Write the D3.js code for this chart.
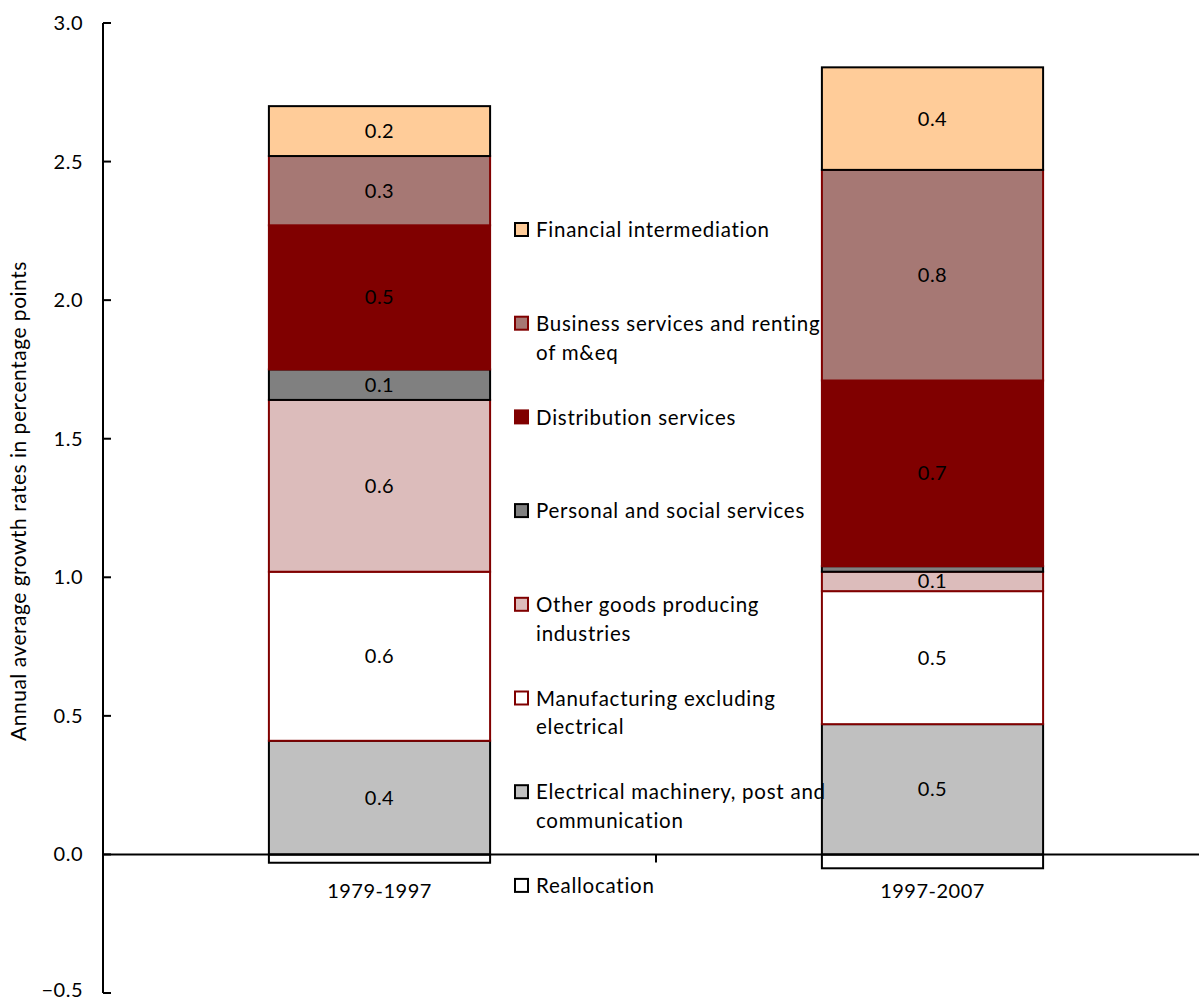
<!DOCTYPE html>
<html>
<head>
<meta charset="utf-8">
<script src="https://cdn.jsdelivr.net/npm/d3@7"></script>
<style>
  html, body { margin: 0; padding: 0; background: #fff; }
  svg { display: block; font-family: "Lato", "Open Sans", sans-serif; letter-spacing: 0.5px; }
  .legend text { letter-spacing: 0.75px; }
</style>
</head>
<body>
<svg id="chart" width="1199" height="1002"></svg>
<script>
// Periods on the x axis
const periods = ["1979-1997", "1997-2007"];

// Industry groups, stacked from the bottom up (reallocation goes below zero)
const industries = [
  "Reallocation",
  "Electrical machinery, post and communication",
  "Manufacturing excluding electrical",
  "Other goods producing industries",
  "Personal and social services",
  "Distribution services",
  "Business services and renting of m&eq",
  "Financial intermediation"
];

// Contributions (percentage points) per industry, one value per period
const reallocation   = [-0.03, -0.05];
const electrical     = [0.41, 0.47];
const manufacturing  = [0.61, 0.48];
const otherGoods     = [0.62, 0.07];
const personal       = [0.11, 0.02];
const distribution   = [0.52, 0.67];
const business       = [0.25, 0.76];
const financial      = [0.18, 0.37];

const seriesValues = [reallocation, electrical, manufacturing, otherGoods,
                      personal, distribution, business, financial];

const yTicks = [-0.5, 0.0, 0.5, 1.0, 1.5, 2.0, 2.5, 3.0];

// Fill and outline per industry
const fills   = ["#ffffff", "#c0c0c0", "#ffffff", "#dcbcbb", "#808080", "#800000", "#a67874", "#ffcc99"];
const strokes = ["#000000", "#000000", "#800000", "#800000", "#000000", "#800000", "#800000", "#000000"];

// Legend, listed top to bottom; each entry split into display lines
const legendOrder = [7, 6, 5, 4, 3, 2, 1, 0];
const legendLines = {
  7: ["Financial intermediation"],
  6: ["Business services and renting", "of m&eq"],
  5: ["Distribution services"],
  4: ["Personal and social services"],
  3: ["Other goods producing", "industries"],
  2: ["Manufacturing excluding", "electrical"],
  1: ["Electrical machinery, post and", "communication"],
  0: ["Reallocation"]
};

const FONT = 20;
const svg = d3.select("#chart");
const axisX = 103;

const x = d3.scaleBand()
  .domain(periods)
  .range([axisX, 1209])
  .paddingInner(0.6)
  .paddingOuter(0.3);

const y = d3.scaleLinear().domain([-0.5, 3.0]).range([993, 23]);

// Build stacked segments: positive values stack upward, negative downward
const segments = [];
periods.forEach((p, pi) => {
  let pos = 0, neg = 0;
  seriesValues.forEach((vals, si) => {
    const v = vals[pi];
    let y0, y1;
    if (v >= 0) { y0 = pos; y1 = pos + v; pos = y1; }
    else { y0 = neg + v; y1 = neg; neg = y0; }
    segments.push({ period: p, series: si, value: v, y0, y1 });
  });
});

// Bars
svg.append("g").selectAll("rect")
  .data(segments)
  .join("rect")
  .attr("x", d => x(d.period))
  .attr("width", x.bandwidth())
  .attr("y", d => y(d.y1))
  .attr("height", d => y(d.y0) - y(d.y1))
  .attr("fill", d => fills[d.series])
  .attr("stroke", d => strokes[d.series])
  .attr("stroke-width", 2);

// Value labels inside the segments
const fmt = d3.format(".1f");
svg.append("g").selectAll("text")
  .data(segments.filter(d => d.value >= 0.05))
  .join("text")
  .attr("x", d => x(d.period) + x.bandwidth() / 2)
  .attr("y", d => y((d.y0 + d.y1) / 2))
  .attr("dy", "0.35em")
  .attr("text-anchor", "middle")
  .attr("font-size", FONT)
  .attr("fill", "#000")
  .text(d => fmt(d.value));

// Y axis
const yAxis = svg.append("g").attr("transform", `translate(${axisX},0)`);
yAxis.append("line")
  .attr("x1", 0).attr("x2", 0)
  .attr("y1", y(3.0)).attr("y2", y(-0.5))
  .attr("stroke", "#000").attr("stroke-width", 2);
yAxis.selectAll(".tick")
  .data(yTicks)
  .join("line")
  .attr("x1", 0).attr("x2", 8)
  .attr("y1", d => y(d)).attr("y2", d => y(d))
  .attr("stroke", "#000").attr("stroke-width", 2);
yAxis.selectAll("text")
  .data(yTicks)
  .join("text")
  .attr("x", -20)
  .attr("y", d => Math.min(y(d), 990))
  .attr("dy", "0.35em")
  .attr("text-anchor", "end")
  .attr("font-size", FONT)
  .text(d => d3.format(".1f")(d));

// Zero line acting as the category axis
const xAxis = svg.append("g");
xAxis.append("line")
  .attr("x1", axisX).attr("x2", 1199)
  .attr("y1", y(0)).attr("y2", y(0))
  .attr("stroke", "#000").attr("stroke-width", 2);
xAxis.append("line")
  .attr("x1", x(periods[1]) - x.step() * x.paddingInner() / 2)
  .attr("x2", x(periods[1]) - x.step() * x.paddingInner() / 2)
  .attr("y1", y(0)).attr("y2", y(0) + 8)
  .attr("stroke", "#000").attr("stroke-width", 2);
xAxis.selectAll("text")
  .data(periods)
  .join("text")
  .attr("x", d => x(d) + x.bandwidth() / 2)
  .attr("y", 891)
  .attr("dy", "0.35em")
  .attr("text-anchor", "middle")
  .attr("font-size", FONT)
  .text(d => d);

// Y axis title
svg.append("text")
  .attr("transform", `translate(26,${y(1.275)}) rotate(-90)`)
  .attr("text-anchor", "middle")
  .attr("font-size", 21)
  .text("Annual average growth rates in percentage points");

// Legend
const legendTop = 230, legendStep = 93.7;
const legend = svg.append("g").attr("class", "legend").selectAll("g")
  .data(legendOrder)
  .join("g")
  .attr("transform", (d, i) => `translate(515,${legendTop + i * legendStep})`);
legend.append("rect")
  .attr("x", 0).attr("y", -7)
  .attr("width", 13).attr("height", 13)
  .attr("fill", d => fills[d])
  .attr("stroke", d => strokes[d])
  .attr("stroke-width", 2);
legend.each(function(d) {
  const t = d3.select(this).append("text")
    .attr("font-size", 20.5)
    .attr("y", 0)
    .attr("dy", "0.35em");
  legendLines[d].forEach((line, li) => {
    t.append("tspan")
      .attr("x", 21)
      .attr("dy", li === 0 ? "0.35em" : "1.4em")
      .text(line);
  });
});
</script>
</body>
</html>
